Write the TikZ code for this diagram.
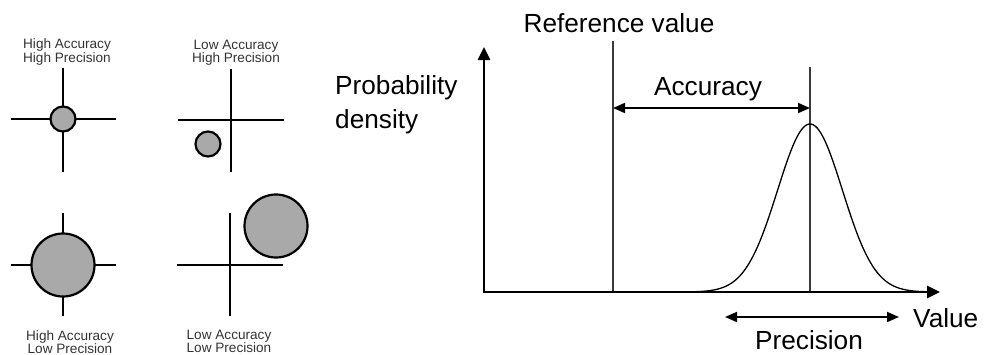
\documentclass[tikz,border=0pt]{standalone}
\usepackage{fontspec}
\setmainfont{Liberation Sans}
\usetikzlibrary{arrows.meta}
\definecolor{dotfill}{HTML}{A9A9A9}
\definecolor{labgray}{HTML}{333333}
\definecolor{refgray}{HTML}{3A3A3A}
\tikzset{
  crossline/.style={line width=2.6pt, black},
  dot/.style={circle, draw=black, line width=2.2pt, fill=dotfill, inner sep=0pt, outer sep=0pt},
  smalllab/.style={font=\fontsize{13.6}{14}\selectfont, text=labgray, inner sep=0pt, anchor=base},
  biglab/.style={font=\fontsize{26.2}{30}\selectfont, inner sep=0pt, anchor=base},
  axis/.style={line width=2.8pt, -{Triangle[length=13pt,width=12pt]}},
  vline/.style={line width=1.4pt, refgray},
  dimarrow/.style={line width=1.8pt, {Triangle[length=12pt,width=10pt]}-{Triangle[length=12pt,width=10pt]}},
}
\begin{document}
\begin{tikzpicture}[x=1pt,y=-1pt]
\useasboundingbox (0,0) rectangle (984,354);

% ---------- left: four targets ----------
% top-left
\node[smalllab] (tl1) at (67,48) {High Accuracy};
\node[smalllab] (tl2) at (67,62) {High Precision};
\draw[crossline] (63,68) -- (63,172);
\draw[crossline] (11,119) -- (116,119);
\node[dot, minimum size=25pt] (ctl) at (63,119) {};

% top-right
\node[smalllab] (tr1) at (236,49) {Low Accuracy};
\node[smalllab] (tr2) at (236,62) {High Precision};
\draw[crossline] (231,69) -- (231,172);
\draw[crossline] (178,120) -- (284,120);
\node[dot, minimum size=25pt] (ctr) at (208,144) {};

% bottom-left
\draw[crossline] (63,213) -- (63,316);
\draw[crossline] (11,265) -- (116,265);
\node[dot, minimum size=63pt] (cbl) at (63,265) {};
\node[smalllab] (bl1) at (70,340) {High Accuracy};
\node[smalllab] (bl2) at (70,353) {Low Precision};

% bottom-right
\draw[crossline] (230,213) -- (230,316);
\draw[crossline] (177,265) -- (283,265);
\node[dot, minimum size=63pt] (cbr) at (276,226) {};
\node[smalllab] (br1) at (229,339) {Low Accuracy};
\node[smalllab] (br2) at (229,352) {Low Precision};

% ---------- right: distribution ----------
\coordinate (O) at (484,292);
\coordinate (ytip) at (484,47);
\coordinate (xtip) at (940,292);
\coordinate (reftop) at (613,41);
\coordinate (refbot) at (613,292);
\coordinate (pktop) at (810,67);
\coordinate (pkbot) at (810,292);
\coordinate (accL) at (613,108);
\coordinate (accR) at (810,108);
\coordinate (preL) at (725,317);
\coordinate (preR) at (899,317);

\draw[vline] (reftop) -- (refbot);
\draw[vline] (pktop) -- (pkbot);
\draw[line width=1.3pt, black] plot[domain=695:925, samples=120, smooth]
  (\x, {292-168*exp(-((\x-810)*(\x-810))/2100)});
\draw[axis, line cap=rect] (O) -- (ytip);
\draw[axis, line cap=rect] (O) -- (xtip);
\draw[dimarrow] (accL) -- (accR);
\draw[dimarrow] (preL) -- (preR);

\node[biglab] (refv) at (619,32) {Reference value};
\node[biglab, anchor=base west] (prob) at (335,94) {Probability};
\node[biglab, anchor=base west] (dens) at (335,128) {density};
\node[biglab] (acc) at (708,95) {Accuracy};
\node[biglab, anchor=base west] (val) at (913,327) {Value};
\node[biglab] (prec) at (809,349) {Precision};
\end{tikzpicture}
\end{document}
